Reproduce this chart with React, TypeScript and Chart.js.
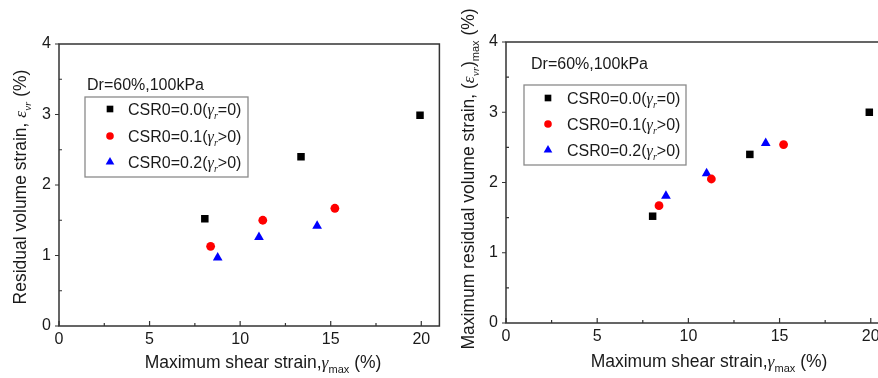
import React, { useEffect, useRef } from "react";
import { Chart, registerables } from "chart.js";
Chart.register(...registerables);

// ---------- data ----------
const xMax = 21;
const yMax = 4;
const xTicks = [0, 5, 10, 15, 20];
const yTicks = [0, 1, 2, 3, 4];
const xMinor = [2.5, 7.5, 12.5, 17.5];
const yMinor = [0.5, 1.5, 2.5, 3.5];

const seriesNames = ["CSR0=0.0", "CSR0=0.1", "CSR0=0.2"];
const seriesCond = ["=0)", ">0)", ">0)"];
const seriesColors = ["#000000", "#ff0000", "#0000ff"];
const seriesShapes = ["rect", "circle", "triangle"];
const seriesRadius = [5.3, 4.4, 5.6];

const annotation = "Dr=60%,100kPa";

// left chart: residual volume strain
const leftX0 = [8.05, 13.36, 19.93];
const leftY0 = [1.52, 2.4, 2.99];
const leftX1 = [8.37, 11.25, 15.23];
const leftY1 = [1.13, 1.5, 1.67];
const leftX2 = [8.76, 11.04, 14.25];
const leftY2 = [0.97, 1.26, 1.42];

// right chart: maximum residual volume strain
const rightX0 = [8.04, 13.37, 19.92];
const rightY0 = [1.52, 2.4, 3.0];
const rightX1 = [8.39, 11.26, 15.22];
const rightY1 = [1.67, 2.05, 2.54];
const rightX2 = [8.77, 11.0, 14.24];
const rightY2 = [1.81, 2.13, 2.56];

type Run = { t: string; it?: boolean; sub?: boolean };

const SANS = '"Liberation Sans", Arial, sans-serif';
const SERIF = '"Liberation Serif", "Times New Roman", serif';
const TEXT = "#1a1a1a";

function runFont(r: Run, size: number) {
  const s = r.sub ? Math.round(size * 0.62) : size;
  if (r.it) return `italic ${s}px ${SERIF}`;
  return `${s}px ${SANS}`;
}

function richWidth(ctx: CanvasRenderingContext2D, runs: Run[], size: number) {
  let w = 0;
  for (const r of runs) {
    ctx.font = runFont(r, size);
    w += ctx.measureText(r.t).width;
  }
  return w;
}

// draws runs with left x, vertical center cy
function drawRich(ctx: CanvasRenderingContext2D, runs: Run[], x: number, cy: number, size: number) {
  const base = cy + size * 0.36;
  ctx.fillStyle = TEXT;
  ctx.textBaseline = "alphabetic";
  ctx.textAlign = "left";
  for (const r of runs) {
    ctx.font = runFont(r, size);
    const y = r.sub ? base + size * 0.28 : base;
    ctx.fillText(r.t, x, y);
    x += ctx.measureText(r.t).width;
  }
}

const xTitleRuns: Run[] = [
  { t: "Maximum shear strain," },
  { t: "γ", it: true },
  { t: "max", sub: true },
  { t: " (%)" },
];
const leftYTitleRuns: Run[] = [
  { t: "Residual volume strain, " },
  { t: "ε", it: true },
  { t: "vr", it: true, sub: true },
  { t: " (%)" },
];
const rightYTitleRuns: Run[] = [
  { t: "Maximum residual volume strain, (" },
  { t: "ε", it: true },
  { t: "vr", it: true, sub: true },
  { t: ")" },
  { t: "max", sub: true },
  { t: " (%)" },
];

type Cfg = {
  yTitle: Run[];
  yTitleX: number;
  yTitleY: number;
  xTitleX: number;
  xTitleY: number;
  annX: number;
  annY: number;
  box: [number, number, number, number];
  rowY: number[];
  markX: number;
  textX: number;
};

function drawMarker(ctx: CanvasRenderingContext2D, shape: string, x: number, y: number, r: number) {
  ctx.beginPath();
  if (shape === "rect") {
    const s = r * Math.SQRT1_2;
    ctx.rect(x - s, y - s, 2 * s, 2 * s);
  } else if (shape === "circle") {
    ctx.arc(x, y, r, 0, Math.PI * 2);
  } else {
    for (let k = 0; k < 3; k++) {
      const ang = -Math.PI / 2 + (k * 2 * Math.PI) / 3;
      const px = x + Math.cos(ang) * r;
      const py = y + Math.sin(ang) * r;
      if (k === 0) ctx.moveTo(px, py);
      else ctx.lineTo(px, py);
    }
    ctx.closePath();
  }
  ctx.fill();
}

function makePlugin(cfg: Cfg) {
  return {
    id: "overlay",
    afterDraw(chart: any) {
      const ctx: CanvasRenderingContext2D = chart.ctx;
      const a = chart.chartArea;
      const xs = chart.scales.x;
      const ys = chart.scales.y;
      ctx.save();
      // frame
      ctx.strokeStyle = "#333";
      ctx.lineWidth = 1.5;
      ctx.strokeRect(a.left, a.top, a.right - a.left, a.bottom - a.top);
      // ticks
      ctx.lineWidth = 1.2;
      ctx.beginPath();
      for (const v of xTicks) {
        const px = xs.getPixelForValue(v);
        ctx.moveTo(px, a.bottom);
        ctx.lineTo(px, a.bottom - 5);
      }
      for (const v of xMinor) {
        const px = xs.getPixelForValue(v);
        ctx.moveTo(px, a.bottom);
        ctx.lineTo(px, a.bottom - 3);
      }
      for (const v of yTicks) {
        const py = ys.getPixelForValue(v);
        ctx.moveTo(a.left, py);
        ctx.lineTo(a.left - 4, py);
      }
      for (const v of yMinor) {
        const py = ys.getPixelForValue(v);
        ctx.moveTo(a.left, py);
        ctx.lineTo(a.left + 3, py);
      }
      ctx.stroke();

      // x title
      const tsize = 17.5;
      const xw = richWidth(ctx, xTitleRuns, tsize);
      drawRich(ctx, xTitleRuns, cfg.xTitleX - xw / 2, cfg.xTitleY, tsize);
      // y title
      const yw = richWidth(ctx, cfg.yTitle, tsize);
      ctx.save();
      ctx.translate(cfg.yTitleX, cfg.yTitleY);
      ctx.rotate(-Math.PI / 2);
      drawRich(ctx, cfg.yTitle, -yw / 2, 0, tsize);
      ctx.restore();

      // annotation
      drawRich(ctx, [{ t: annotation }], cfg.annX, cfg.annY, 16);
      // legend box
      ctx.strokeStyle = "#8a8a8a";
      ctx.lineWidth = 1.3;
      const [bx, by, bw, bh] = cfg.box;
      ctx.strokeRect(bx, by, bw, bh);
      for (let i = 0; i < seriesNames.length; i++) {
        const y = cfg.rowY[i];
        ctx.fillStyle = seriesColors[i];
        drawMarker(ctx, seriesShapes[i], cfg.markX, y, seriesRadius[i] - 0.6);
        drawRich(
          ctx,
          [{ t: seriesNames[i] + "(" }, { t: "γ", it: true }, { t: "r", it: true, sub: true }, { t: seriesCond[i] }],
          cfg.textX,
          y,
          16
        );
      }
      ctx.restore();
    },
  };
}

function buildDatasets(xsArr: number[][], ysArr: number[][]) {
  return xsArr.map((xv, i) => ({
    label: seriesNames[i],
    data: xv.map((x, j) => ({ x, y: ysArr[i][j] })),
    pointStyle: seriesShapes[i],
    pointRadius: seriesRadius[i],
    pointBackgroundColor: seriesColors[i],
    pointBorderColor: seriesColors[i],
    pointBorderWidth: 0,
    showLine: false,
  }));
}

function makeChart(
  canvas: HTMLCanvasElement,
  datasets: any[],
  leftW: number,
  bottomH: number,
  top: number,
  right: number,
  cfg: Cfg
) {
  return new Chart(canvas, {
    type: "scatter",
    data: { datasets },
    options: {
      responsive: false,
      animation: false,
      devicePixelRatio: 1,
      layout: { padding: { top, right, left: 0, bottom: 0 } },
      plugins: { legend: { display: false }, tooltip: { enabled: false } },
      scales: {
        x: {
          type: "linear",
          min: 0,
          max: xMax,
          afterBuildTicks: (s: any) => {
            s.ticks = xTicks.map((v) => ({ value: v }));
          },
          afterFit: (s: any) => {
            s.height = bottomH;
          },
          ticks: {
            font: { family: SANS, size: 16 },
            color: TEXT,
            padding: 4,
            maxRotation: 0,
            autoSkip: false,
          },
          grid: { display: false, drawTicks: false },
          border: { display: false },
        },
        y: {
          type: "linear",
          min: 0,
          max: yMax,
          afterBuildTicks: (s: any) => {
            s.ticks = yTicks.map((v) => ({ value: v }));
          },
          afterFit: (s: any) => {
            s.width = leftW;
          },
          ticks: {
            font: { family: SANS, size: 16 },
            color: TEXT,
            padding: 8,
            autoSkip: false,
          },
          grid: { display: false, drawTicks: false },
          border: { display: false },
        },
      },
    },
    plugins: [makePlugin(cfg)],
  } as any);
}

export default function App() {
  const leftRef = useRef<HTMLCanvasElement>(null);
  const rightRef = useRef<HTMLCanvasElement>(null);

  useEffect(() => {
    const c1 = makeChart(
      leftRef.current!,
      buildDatasets([leftX0, leftX1, leftX2], [leftY0, leftY1, leftY2]),
      59,
      52,
      44,
      2,
      {
        yTitle: leftYTitleRuns,
        yTitleX: 20,
        yTitleY: 187,
        xTitleX: 263,
        xTitleY: 362,
        annX: 87,
        annY: 84,
        box: [85, 97, 163, 80],
        rowY: [109, 136, 162],
        markX: 110,
        textX: 128,
      }
    );
    const c2 = makeChart(
      rightRef.current!,
      buildDatasets([rightX0, rightX1, rightX2], [rightY0, rightY1, rightY2]),
      61,
      55,
      42,
      6,
      {
        yTitle: rightYTitleRuns,
        yTitleX: 23,
        yTitleY: 179,
        xTitleX: 264,
        xTitleY: 361,
        annX: 86,
        annY: 63,
        box: [79, 85, 162, 80],
        rowY: [98, 124, 150],
        markX: 103,
        textX: 122,
      }
    );
    return () => {
      c1.destroy();
      c2.destroy();
    };
  }, []);

  return (
    <div
      style={{
        position: "absolute",
        left: 0,
        top: 0,
        width: 878,
        height: 378,
        overflow: "hidden",
        background: "#fff",
      }}
    >
      <canvas
        ref={leftRef}
        width={445}
        height={378}
        style={{ position: "absolute", left: 0, top: 0, width: 445, height: 378 }}
      />
      <canvas
        ref={rightRef}
        width={450}
        height={378}
        style={{ position: "absolute", left: 445, top: 0, width: 450, height: 378 }}
      />
    </div>
  );
}
